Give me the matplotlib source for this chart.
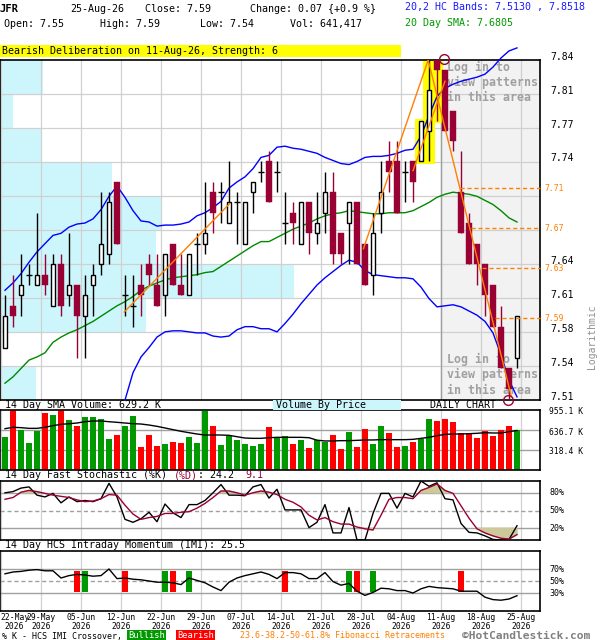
import numpy as np
import matplotlib.pyplot as plt
from matplotlib.patches import Rectangle
from matplotlib.transforms import blended_transform_factory, offset_copy

plt.rcParams['font.family'] = 'DejaVu Sans Mono'

# daily bars for JFR, index 0 = first bar on the chart
opens = [7.56, 7.60, 7.61, 7.63, 7.62, 7.63, 7.60, 7.64, 7.61, 7.62,
         7.59, 7.62, 7.64, 7.65, 7.72, 7.61, 7.60, 7.62, 7.64, 7.62,
         7.61, 7.66, 7.62, 7.61, 7.66, 7.66, 7.71, 7.71, 7.68, 7.70,
         7.66, 7.71, 7.73, 7.74, 7.73, 7.68, 7.69, 7.66, 7.70, 7.67,
         7.69, 7.71, 7.67, 7.68, 7.70, 7.66, 7.63, 7.69, 7.74, 7.74,
         7.73, 7.74, 7.74, 7.77, 7.84, 7.83, 7.79, 7.71, 7.68, 7.66,
         7.64, 7.62, 7.58, 7.54, 7.55]
highs = [7.61, 7.63, 7.65, 7.64, 7.69, 7.65, 7.65, 7.65, 7.67, 7.62,
         7.63, 7.64, 7.71, 7.71, 7.72, 7.63, 7.63, 7.64, 7.65, 7.65,
         7.65, 7.66, 7.65, 7.65, 7.67, 7.72, 7.72, 7.72, 7.74, 7.71,
         7.70, 7.72, 7.74, 7.75, 7.74, 7.71, 7.70, 7.70, 7.70, 7.71,
         7.73, 7.73, 7.67, 7.70, 7.70, 7.66, 7.69, 7.74, 7.76, 7.76,
         7.74, 7.74, 7.78, 7.84, 7.84, 7.83, 7.79, 7.75, 7.69, 7.66,
         7.64, 7.62, 7.60, 7.54, 7.59]
lows = [7.56, 7.58, 7.59, 7.62, 7.62, 7.61, 7.60, 7.59, 7.60, 7.55,
        7.55, 7.59, 7.63, 7.64, 7.66, 7.59, 7.58, 7.59, 7.62, 7.60,
        7.59, 7.62, 7.61, 7.61, 7.63, 7.65, 7.67, 7.68, 7.68, 7.66,
        7.66, 7.69, 7.72, 7.70, 7.71, 7.66, 7.66, 7.66, 7.65, 7.66,
        7.67, 7.64, 7.64, 7.64, 7.64, 7.62, 7.61, 7.67, 7.71, 7.69,
        7.70, 7.70, 7.74, 7.74, 7.78, 7.77, 7.75, 7.67, 7.64, 7.62,
        7.59, 7.58, 7.54, 7.51, 7.54]
closes = [7.59, 7.59, 7.62, 7.63, 7.63, 7.62, 7.64, 7.60, 7.62, 7.59,
          7.61, 7.63, 7.66, 7.70, 7.66, 7.61, 7.60, 7.61, 7.63, 7.60,
          7.65, 7.62, 7.61, 7.65, 7.66, 7.67, 7.69, 7.71, 7.70, 7.70,
          7.70, 7.72, 7.73, 7.70, 7.73, 7.68, 7.68, 7.70, 7.67, 7.68,
          7.71, 7.65, 7.65, 7.70, 7.64, 7.62, 7.67, 7.71, 7.73, 7.69,
          7.73, 7.72, 7.78, 7.81, 7.83, 7.77, 7.76, 7.67, 7.64, 7.64,
          7.61, 7.58, 7.54, 7.52, 7.59]

upper_band = [7.615, 7.622, 7.631, 7.642, 7.652, 7.660, 7.668, 7.670, 7.676, 7.679,
              7.680, 7.684, 7.693, 7.706, 7.716, 7.705, 7.692, 7.682, 7.681, 7.677,
              7.678, 7.678, 7.679, 7.681, 7.687, 7.690, 7.695, 7.701, 7.714, 7.720,
              7.725, 7.733, 7.744, 7.746, 7.754, 7.755, 7.753, 7.752, 7.750, 7.748,
              7.744, 7.741, 7.738, 7.737, 7.740, 7.744, 7.745, 7.745, 7.746, 7.748,
              7.751, 7.752, 7.765, 7.785, 7.804, 7.812, 7.816, 7.819, 7.821, 7.823,
              7.826, 7.833, 7.842, 7.849, 7.852]
lower_band = [np.nan] * 14 + [
              7.470, 7.510, 7.536, 7.551, 7.560, 7.570,
              7.575, 7.576, 7.576, 7.575, 7.574, 7.574, 7.571, 7.570, 7.571, 7.577,
              7.580, 7.580, 7.578, 7.578, 7.575, 7.583, 7.592, 7.602, 7.611, 7.620,
              7.627, 7.633, 7.639, 7.644, 7.642, 7.634, 7.630, 7.629, 7.628, 7.627,
              7.627, 7.626, 7.618, 7.607, 7.599, 7.600, 7.601, 7.599, 7.595, 7.591,
              7.585, 7.574, 7.553, 7.529, 7.513]
sma20 = [7.526, 7.532, 7.540, 7.548, 7.551, 7.555, 7.565, 7.570, 7.574, 7.577,
         7.581, 7.585, 7.590, 7.595, 7.600, 7.604, 7.609, 7.615, 7.619, 7.622,
         7.625, 7.627, 7.628, 7.629, 7.630, 7.632, 7.633, 7.638, 7.643, 7.648,
         7.653, 7.658, 7.662, 7.662, 7.666, 7.670, 7.674, 7.677, 7.680, 7.684,
         7.687, 7.689, 7.690, 7.692, 7.691, 7.690, 7.689, 7.689, 7.690, 7.690,
         7.690, 7.692, 7.696, 7.700, 7.705, 7.708, 7.710, 7.709, 7.708, 7.706,
         7.702, 7.698, 7.692, 7.685, 7.681]

volume_k = [530, 960, 637, 435, 626, 912, 876, 960, 796, 700,
            844, 844, 812, 494, 557, 700, 860, 361, 557, 382,
            414, 446, 430, 525, 430, 944, 700, 398, 546, 478,
            414, 382, 414, 685, 520, 541, 414, 478, 356, 478,
            451, 557, 334, 605, 366, 653, 414, 700, 589, 366,
            382, 446, 494, 812, 780, 812, 764, 584, 584, 509,
            626, 541, 637, 700, 641]
vol_sma_k = [658, 680, 674, 663, 663, 680, 706, 727, 737, 748,
             769, 780, 780, 769, 759, 748, 737, 732, 716, 695,
             669, 642, 616, 594, 573, 557, 557, 557, 552, 530,
             509, 504, 504, 514, 520, 520, 520, 520, 514, 475,
             462, 462, 467, 467, 472, 478, 478, 483, 483, 483,
             483, 488, 504, 520, 546, 568, 573, 573, 578, 584,
             594, 589, 589, 610, 629]
vol_ticks = [318.4, 636.7, 955.1]

stoch_k = [80, 82, 88, 90, 76, 73, 79, 63, 73, 65,
           67, 65, 70, 96, 73, 35, 30, 36, 47, 31,
           61, 46, 38, 60, 60, 67, 80, 94, 76, 76,
           75, 90, 94, 71, 86, 51, 51, 51, 21, 30,
           60, 12, 12, 55, 0, 0, 45, 79, 79, 54,
           79, 73, 100, 91, 97, 70, 68, 28, 13, 12,
           7, 1, 0, 1, 24.2]
stoch_d = [69, 72, 81, 84, 82, 79, 76, 74, 72, 68,
           65, 66, 70, 77, 76, 59, 44, 35, 38, 40,
           45, 45, 47, 48, 54, 62, 72, 83, 83, 80,
           76, 80, 83, 81, 77, 69, 64, 56, 42, 34,
           38, 31, 27, 27, 22, 19, 17, 42, 69, 72,
           72, 70, 84, 89, 95, 84, 79, 58, 37, 19,
           12, 7, 3, 1.5, 9.1]
imi = [62, 65, 66, 68, 69, 67, 67, 55, 59, 61,
       60, 58, 59, 70, 54, 55, 53, 52, 50, 48,
       48, 47, 44, 55, 51, 47, 40, 34, 48, 55,
       59, 62, 65, 61, 54, 64, 64, 62, 54, 54,
       64, 49, 43, 46, 33, 26, 31, 38, 37, 34,
       34, 30, 37, 41, 39, 38, 37, 33, 33, 33,
       23, 19, 18, 20, 25.5]
bull_cross = [10, 20, 23, 43, 46]
bear_cross = [9, 15, 21, 35, 44, 57]

date_labels = ['22-May', '29-May', '05-Jun', '12-Jun', '22-Jun', '29-Jun', '07-Jul',
               '14-Jul', '21-Jul', '28-Jul', '04-Aug', '11-Aug', '18-Aug', '25-Aug']
price_labels = ['7.51', '7.54', '7.58', '7.61', '7.64', '', '', '7.74', '7.77', '7.81', '7.84']

# volume by price, share of chart width, bottom row first
vbp_share = [0.066, 0.0, 0.270, 0.544, 0.288, 0.299, 0.207, 0.077, 0.024, 0.079]

fib_levels = [7.714, 7.675, 7.636, 7.588]
fib_labels = ['7.71', '7.67', '7.63', '7.59']
fib_start = [56.9, 58.3, 59.6, 61.3]
trend_lines = [((14.9, 7.594), (28.1, 7.699)),
               ((44.8, 7.655), (52.9, 7.840)),
               ((51.0, 7.731), (55.0, 7.819)),
               ((52.9, 7.840), (63.3, 7.513))]
swing_points = [(54.9, 7.841), (62.9, 7.510)]
pattern_bars = [52, 53, 54]

MAROON = '#990033'
ORANGE = '#ff7f00'
GRID = '#d0d0d0'

W, H = 600, 640
def rect(x0, y0, x1, y1):
    return [x0 / W, 1 - y1 / H, (x1 - x0) / W, (y1 - y0) / H]

def ftext(x, y, s, **kw):
    kw.setdefault('fontsize', 7.2)
    kw.setdefault('va', 'center')
    fig.text(x / W, 1 - y / H, s, **kw)

fig = plt.figure(figsize=(6, 6.4), dpi=100)
ax = fig.add_axes(rect(0, 60, 540, 400))
axv = fig.add_axes(rect(0, 410, 540, 470))
axs = fig.add_axes(rect(0, 481, 540, 540))
axi = fig.add_axes(rect(0, 551, 540, 611))

n = len(closes)
x = np.arange(n)
xlim = (-0.625, 66.875)
grid_x = [5 * k - 0.5 for k in range(14)]

for a in (ax, axv, axs, axi):
    a.set_xlim(*xlim)
    a.set_xticks([])
    a.set_yticks([])
    a.minorticks_off()
    for s in a.spines.values():
        s.set_linewidth(1.2)
        s.set_color('black')
    for gx in grid_x:
        a.axvline(gx, color=GRID, lw=0.9, zorder=1)

# ---- price panel
ax.set_yscale('log')
lo, hi = 7.51, 7.84
ax.set_ylim(lo, hi)
ax.yaxis.set_major_locator(plt.NullLocator())
ax.yaxis.set_minor_locator(plt.NullLocator())
grid_y = np.geomspace(lo, hi, 11)
for gy in grid_y[1:-1]:
    ax.axhline(gy, color=GRID, lw=0.9, zorder=1)

blend = blended_transform_factory(ax.transAxes, ax.transData)
for k, share in enumerate(vbp_share):
    ax.add_patch(Rectangle((0, grid_y[k]), share, grid_y[k + 1] - grid_y[k],
                           transform=blend, fc='#ccf6fc', ec='none', zorder=0))

ax.axvspan(54.5, xlim[1], color='#f2f2f2', zorder=0.5)
ax.axvline(54.5, color='#a0a0a0', lw=1, zorder=1.2)

for i in pattern_bars:
    ax.add_patch(Rectangle((i - 0.7, lows[i] - 0.002), 1.4, highs[i] - lows[i] + 0.004,
                           fc='#ffff00', ec='none', zorder=2))

wm = 'Log in to\nview patterns\nin this area'
ax.text(55.2, 7.8395, wm, color='#a0a0a0', fontsize=8.4, fontweight='bold',
        va='top', ha='left', linespacing=1.22, zorder=2.5)
ax.text(55.2, 7.5548, wm, color='#a0a0a0', fontsize=8.4, fontweight='bold',
        va='top', ha='left', linespacing=1.22, zorder=2.5)

ax.plot(x, upper_band, color='#0000ff', lw=1, zorder=3, clip_on=False)
ax.plot(x, lower_band, color='#0000ff', lw=1, zorder=3)
ax.plot(x, sma20, color='#008800', lw=1, zorder=3)

for i in x:
    o, h, l, c = opens[i], highs[i], lows[i], closes[i]
    if c > o:
        ax.vlines(i, l, h, color='black', lw=1, zorder=4)
        ax.add_patch(Rectangle((i - 0.3, o), 0.6, c - o, fc='white', ec='black', lw=1, zorder=5))
    elif c < o:
        ax.vlines(i, l, h, color=MAROON, lw=1, zorder=4)
        ax.add_patch(Rectangle((i - 0.36, c), 0.72, o - c, fc=MAROON, ec=MAROON, lw=0.3, zorder=5))
    else:
        ax.vlines(i, l, h, color='black', lw=1, zorder=4)
        ax.hlines(o, i - 0.38, i + 0.38, color='black', lw=1, zorder=5)

for (x0, y0), (x1, y1) in trend_lines:
    ax.plot([x0, x1], [y0, y1], color=ORANGE, lw=1, zorder=6)
for lev, lab, st in zip(fib_levels, fib_labels, fib_start):
    ax.hlines(lev, st, xlim[1], colors=ORANGE, lw=1, linestyles=(0, (3, 2)), zorder=6, clip_on=False)
    ax.text(1.009, lev, lab, transform=blend, color=ORANGE, fontsize=5.8, va='center', ha='left')
for px, py in swing_points:
    ax.plot(px, py, 'o', ms=7, mfc='none', mec=MAROON, mew=1, zorder=7, clip_on=False)

lab_tr = offset_copy(blend, fig=fig, x=0, y=3.5, units='dots')
for gy, lab in zip(grid_y, price_labels):
    ax.text(1.0185, gy, lab, transform=lab_tr, fontsize=7, va='center', ha='left')

# ---- volume panel
axv.set_ylim(0, vol_ticks[-1])
for v in vol_ticks[:2]:
    axv.axhline(v, color='#a0a0a0', lw=1, zorder=1.5)
vol_colors = ['#009900' if c >= o else '#ff0000' for o, c in zip(opens, closes)]
axv.bar(x, volume_k, width=0.7, color=vol_colors, zorder=2)
axv.plot(x, vol_sma_k, color='black', lw=1, zorder=3)
vblend = blended_transform_factory(axv.transAxes, axv.transData)
vtr = offset_copy(vblend, fig=fig, x=0, y=-2, units='dots')
for v in vol_ticks:
    axv.text(1.017, v, f'{v:.1f} K', transform=vtr, fontsize=5.8, va='center', ha='left')

# ---- stochastic panel
axs.set_ylim(0, 100)
axs.axhline(80, color='#a0a0a0', lw=1, zorder=1.5)
axs.axhline(20, color='#a0a0a0', lw=1, zorder=1.5)
axs.axhline(50, color='#a0a0a0', lw=1, ls=(0, (3, 2)), zorder=1.5)
kd = np.array(stoch_d)
axs.fill_between(x, kd, 80, where=kd > 80, interpolate=True, color='#cdc99b', zorder=2)
axs.fill_between(x, kd, 20, where=kd < 20, interpolate=True, color='#cdc99b', zorder=2)
axs.plot(x, stoch_k, color='black', lw=1, zorder=3)
axs.plot(x, stoch_d, color=MAROON, lw=1, zorder=3)
sblend = blended_transform_factory(axs.transAxes, axs.transData)
for v in (80, 50, 20):
    axs.text(1.017, v, f'{v}%', transform=sblend, fontsize=6, va='center', ha='left')

# ---- intraday momentum panel
axi.set_ylim(0, 100)
axi.axhline(70, color='#a0a0a0', lw=1, zorder=1.5)
axi.axhline(30, color='#a0a0a0', lw=1, zorder=1.5)
axi.axhline(50, color='#a0a0a0', lw=1, ls=(0, (3, 2)), zorder=1.5)
axi.bar(bull_cross, 35, bottom=32.5, width=0.75, color='#009900', zorder=2)
axi.bar(bear_cross, 35, bottom=32.5, width=0.75, color='#ff0000', zorder=2)
axi.plot(x, imi, color='black', lw=1, zorder=3)
iblend = blended_transform_factory(axi.transAxes, axi.transData)
for v in (70, 50, 30):
    axi.text(1.017, v, f'{v}%', transform=iblend, fontsize=6, va='center', ha='left')

dblend = blended_transform_factory(axi.transData, axi.transAxes)
for k, (gx, lab) in enumerate(zip(grid_x, date_labels)):
    if k == 0:
        axi.text(xlim[0], -0.03, lab + '\n2026', transform=dblend, fontsize=5.8,
                 ha='left', va='top', linespacing=1.05, multialignment='center')
    else:
        axi.text(gx, -0.03, lab + '\n2026', transform=dblend, fontsize=5.8,
                 ha='center', va='top', linespacing=1.05)

# ---- header and captions
chg = closes[-1] - closes[-2]
ftext(0, 9, 'JFR', fontweight='bold', fontsize=7.6)
ftext(70, 9, '25-Aug-26')
ftext(145, 9, f'Close: {closes[-1]:.2f}')
ftext(250, 9, f'Change: {chg:.2f} {{+{chg / closes[-2] * 100:.1f} %}}')
ftext(4, 24, f'Open: {opens[-1]:.2f}')
ftext(100, 24, f'High: {highs[-1]:.2f}')
ftext(200, 24, f'Low: {lows[-1]:.2f}')
ftext(290, 24, 'Vol: 641,417')
ftext(405, 7, '20,2 HC Bands: 7.5130 , 7.8518', color='#1a1aff')
ftext(405, 23, '20 Day SMA: 7.6805', color='#009900')

fig.add_artist(Rectangle((0, 1 - 57 / H), 400.7 / W, 12 / H, transform=fig.transFigure,
                         fc='#ffff00', ec='none'))
ftext(2, 51, 'Bearish Deliberation on 11-Aug-26, Strength: 6')

fig.add_artist(Rectangle((273 / W, 1 - 410 / H), 127.7 / W, 10 / H, transform=fig.transFigure,
                         fc='#ccf6fc', ec='none'))
ftext(5, 405, '14 Day SMA Volume: 629.2 K')
ftext(276, 405, 'Volume By Price')
ftext(430, 405, 'DAILY CHART')
ftext(592, 337, 'Logarithmic', rotation=90, ha='center', color='#909090', fontsize=7)

# stochastic caption, pieces laid out on the monospace grid (6.02 px per char)
cw = 6.02
ftext(5, 475, '14 Day Fast Stochastic (%K)')
ftext(5 + 28 * cw, 475, '(%D)', color=MAROON)
ftext(5 + 32 * cw, 475, ': 24.2')
ftext(5 + 40 * cw, 475, '9.1', color=MAROON)
ftext(5, 545, '14 Day HCS Intraday Momentum (IMI): 25.5')

ftext(2, 636, '% K - HCS IMI Crossover,', fontsize=6)
ftext(128, 636, 'Bullish', fontsize=6.3, color='white',
      bbox=dict(boxstyle='square,pad=0.15', fc='#009900', ec='none'))
ftext(177, 636, 'Bearish', fontsize=6.3, color='white',
      bbox=dict(boxstyle='square,pad=0.15', fc='#ff0000', ec='none'))
ftext(240, 636, '23.6-38.2-50-61.8% Fibonacci Retracements', fontsize=6, color=ORANGE)
ftext(462, 636, '\u00a9HotCandlestick.com', fontsize=8.1, fontweight='bold', color='#808080')

fig.savefig('out.png', dpi=100, facecolor='white')
